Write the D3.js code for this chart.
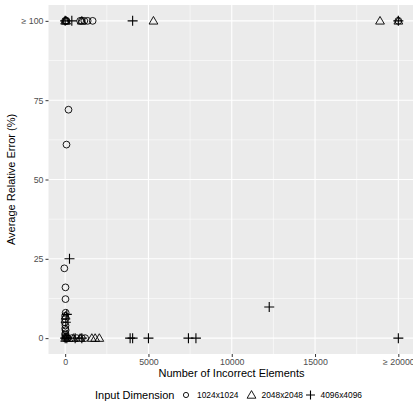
<!DOCTYPE html>
<html>
<head>
<meta charset="utf-8">
<script src="https://cdn.jsdelivr.net/npm/d3@7"></script>
<style>
  body { margin: 0; background: #fff; }
  svg { font-family: "Liberation Sans", Arial, sans-serif; }
</style>
</head>
<body>
<svg id="chart" width="413" height="407"></svg>
<script>
// values are capped at 100 % and 20000 elements (shown as "≥" on the axes)
const seriesNames = ["1024x1024", "2048x2048", "4096x4096"];

const circleX = [0, 40, 80, 900, 1000, 1150, 1350, 1650, 20000,
  200, 80, -50, 20, 20, 30, 0, 10, -20, 20, 0, 30, 10, 0, 40,
  0, 60, 150, 400, 700, 1000, 1200];
const circleY = [100, 100, 100, 100, 100, 100, 100, 100, 100,
  72, 61, 22, 16, 12.3, 8, 7, 6, 5, 4, 3, 2.5, 1.5, 1, 0.5,
  0, 0, 0, 0, 0, 0, 0];

const triangleX = [0, 60, 1000, 5300, 18900, 20000,
  30, 0, 200, 500, 900, 1600, 1800, 2050];
const triangleY = [100, 100, 100, 100, 100, 100,
  7, 0, 0, 0, 0, 0, 0, 0];

const plusX = [0, 400, 4050, 20000, 260, 100, 40,
  0, 100, 600, 1000, 3900, 4050, 5000, 7400, 7850, 20000, 12250];
const plusY = [100, 100, 100, 100, 25, 7.5, 5,
  0, 0, 0, 0, 0, 0, 0, 0, 0, 0, 9.8];

const xTicks = [0, 5000, 10000, 15000, 20000];
const xTickLabels = ["0", "5000", "10000", "15000", "\u2265 20000"];
const yTicks = [0, 25, 50, 75, 100];
const yTickLabels = ["0", "25", "50", "75", "\u2265 100"];

const svg = d3.select("#chart");
const margin = {top: 5, right: -2, bottom: 53, left: 48.5};
const width = +svg.attr("width") - margin.left - margin.right;
const height = +svg.attr("height") - margin.top - margin.bottom;

const x = d3.scaleLinear().domain([-1000, 21000]).range([0, width]);
const y = d3.scaleLinear().domain([-5, 105]).range([height, 0]);

const g = svg.append("g")
    .attr("transform", "translate(" + margin.left + "," + margin.top + ")");

g.append("rect")
    .attr("width", width)
    .attr("height", height)
    .attr("fill", "#EBEBEB");

// minor grid
g.selectAll(".minor-x")
  .data([-2500, 2500, 7500, 12500, 17500])
  .enter().append("line")
    .attr("x1", d => x(d)).attr("x2", d => x(d))
    .attr("y1", 0).attr("y2", height)
    .attr("stroke", "#fff").attr("stroke-width", 0.55);
g.selectAll(".minor-y")
  .data([12.5, 37.5, 62.5, 87.5])
  .enter().append("line")
    .attr("y1", d => y(d)).attr("y2", d => y(d))
    .attr("x1", 0).attr("x2", width)
    .attr("stroke", "#fff").attr("stroke-width", 0.55);

// major grid
g.selectAll(".major-x")
  .data(xTicks)
  .enter().append("line")
    .attr("x1", d => x(d)).attr("x2", d => x(d))
    .attr("y1", 0).attr("y2", height)
    .attr("stroke", "#fff").attr("stroke-width", 1.1);
g.selectAll(".major-y")
  .data(yTicks)
  .enter().append("line")
    .attr("y1", d => y(d)).attr("y2", d => y(d))
    .attr("x1", 0).attr("x2", width)
    .attr("stroke", "#fff").attr("stroke-width", 1.1);

// axes
const xAxis = g.append("g")
    .attr("transform", "translate(0," + height + ")")
    .call(d3.axisBottom(x).tickValues(xTicks)
      .tickFormat((d, i) => xTickLabels[i]).tickSize(3).tickPadding(2));
const yAxis = g.append("g")
    .call(d3.axisLeft(y).tickValues(yTicks)
      .tickFormat((d, i) => yTickLabels[i]).tickSize(3).tickPadding(2));
[xAxis, yAxis].forEach(a => {
  a.select(".domain").remove();
  a.selectAll(".tick line").attr("stroke", "#333").attr("stroke-width", 1);
  a.selectAll(".tick text")
      .attr("fill", "#4D4D4D")
      .style("font-size", "8.8px")
      .style("font-family", "'Liberation Sans', Arial, sans-serif");
});

// point shapes, drawn as outlines like ggplot shapes 1, 2 and 3
const shapes = {
  circle: "M3.4,0A3.4,3.4 0 1,1 -3.4,0A3.4,3.4 0 1,1 3.4,0Z",
  triangle: "M0,-4.4L4.4,3.2L-4.4,3.2Z",
  plus: "M-5,0H5M0,-5V5"
};

function drawSeries(xs, ys, shape) {
  g.append("g").selectAll("path")
    .data(xs.map((v, i) => [v, ys[i]]))
    .enter().append("path")
      .attr("transform", d => "translate(" + x(d[0]) + "," + y(d[1]) + ")")
      .attr("d", shapes[shape])
      .attr("fill", "none")
      .attr("stroke", "#000")
      .attr("stroke-width", shape === "plus" ? 1.1 : 0.9);
}
drawSeries(circleX, circleY, "circle");
drawSeries(triangleX, triangleY, "triangle");
drawSeries(plusX, plusY, "plus");

// axis titles
svg.append("text")
    .attr("x", 231.5).attr("y", 377)
    .attr("text-anchor", "middle")
    .style("font-size", "11px")
    .text("Number of Incorrect Elements");
svg.append("text")
    .attr("transform", "translate(15," + (margin.top + height / 2) + ") rotate(-90)")
    .attr("text-anchor", "middle")
    .style("font-size", "11px")
    .text("Average Relative Error (%)");

// legend
const legend = svg.append("g").attr("transform", "translate(0,395)");
legend.append("text")
    .attr("x", 95).attr("y", 4)
    .style("font-size", "11px")
    .text("Input Dimension");
const keyX = [186, 251.5, 310.5];
const labelX = [197, 261.5, 320.5];
const keyShapes = ["circle", "triangle", "plus"];
const keyPaths = {
  circle: "M2.6,0A2.6,2.6 0 1,1 -2.6,0A2.6,2.6 0 1,1 2.6,0Z",
  triangle: shapes.triangle,
  plus: "M-4.5,0H4.5M0,-4.5V4.5"
};
seriesNames.forEach((name, i) => {
  legend.append("path")
      .attr("transform", "translate(" + keyX[i] + ",0)")
      .attr("d", keyPaths[keyShapes[i]])
      .attr("fill", "none")
      .attr("stroke", "#000")
      .attr("stroke-width", keyShapes[i] === "plus" ? 1.1 : 0.9);
  legend.append("text")
      .attr("x", labelX[i]).attr("y", 3.2)
      .style("font-size", "8.4px")
      .text(name);
});
</script>
</body>
</html>
